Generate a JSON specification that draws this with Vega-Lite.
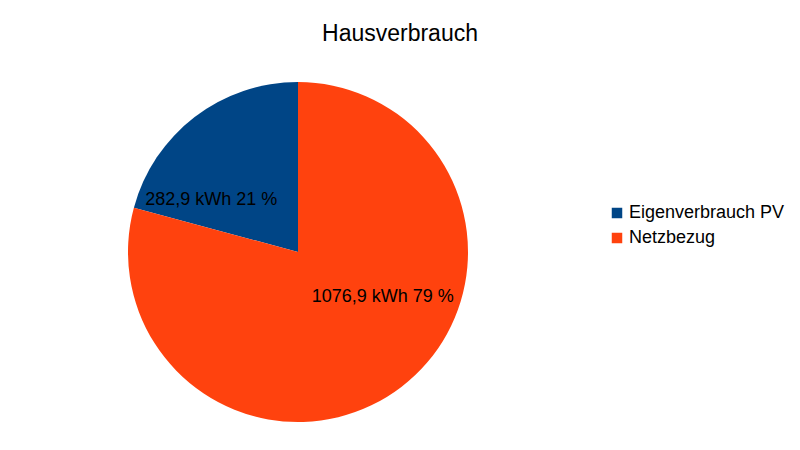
{
  "$schema": "https://vega.github.io/schema/vega-lite/v6.json",
  "width": 596,
  "height": 370,
  "autosize": {"type": "none"},
  "padding": {"left": 0, "top": 67, "right": 204, "bottom": 13},
  "background": "white",
  "config": {"view": {"stroke": null}, "font": "Liberation Sans"},
  "title": {
    "text": "Hausverbrauch",
    "font": "Liberation Sans",
    "fontSize": 23,
    "fontWeight": "normal",
    "color": "black",
    "anchor": "middle",
    "dx": 102,
    "offset": 21
  },
  "data": {
    "values": [
      {"category": "Eigenverbrauch PV", "kwh": 282.9, "label": "282,9 kWh 21 %"},
      {"category": "Netzbezug", "kwh": 1076.9, "label": "1076,9 kWh 79 %"}
    ]
  },
  "encoding": {
    "theta": {"field": "kwh", "type": "quantitative", "stack": true},
    "order": {"field": "category", "sort": "descending"}
  },
  "layer": [
    {
      "mark": {"type": "arc", "outerRadius": 170},
      "encoding": {
        "color": {
          "field": "category",
          "type": "nominal",
          "scale": {"domain": ["Eigenverbrauch PV", "Netzbezug"], "range": ["#004586", "#ff420e"]},
          "legend": {
            "title": null,
            "orient": "none",
            "legendX": 608,
            "legendY": 137,
            "symbolType": "square",
            "symbolSize": 110,
            "symbolStrokeWidth": 0,
            "labelFont": "Liberation Sans",
            "labelFontSize": 18,
            "labelColor": "black",
            "labelOffset": 3,
            "rowPadding": 7
          }
        }
      }
    },
    {
      "mark": {"type": "text", "radius": 100, "fontSize": 18, "font": "Liberation Sans", "color": "black", "dx": -26, "dy": 27},
      "encoding": {
        "text": {"condition": {"test": "datum.category === 'Eigenverbrauch PV'", "field": "label"}, "value": ""}
      }
    },
    {
      "mark": {"type": "text", "radius": 100, "fontSize": 18, "font": "Liberation Sans", "color": "black", "dx": 24, "dy": -34},
      "encoding": {
        "text": {"condition": {"test": "datum.category === 'Netzbezug'", "field": "label"}, "value": ""}
      }
    }
  ]
}
